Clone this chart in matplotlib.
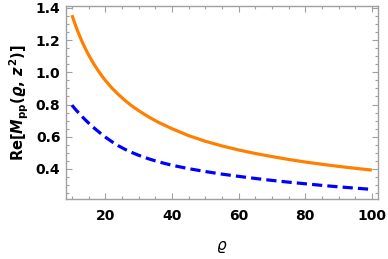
import numpy as np
import matplotlib
matplotlib.use("Agg")
import matplotlib.pyplot as plt
from matplotlib.ticker import MultipleLocator

# values
rho = [10, 11, 12, 13, 14, 15, 16, 17, 18, 19, 20, 22, 24, 26, 28, 30, 33, 36, 40,
       45, 50, 55, 60, 65, 70, 75, 80, 85, 90, 95, 100]
re_solid = [1.355, 1.295, 1.241, 1.192, 1.148, 1.108, 1.071, 1.037, 1.006, 0.977, 0.950,
            0.902, 0.861, 0.824, 0.791, 0.762, 0.723, 0.689, 0.650,
            0.607, 0.572, 0.543, 0.518, 0.496, 0.477, 0.459, 0.443, 0.429, 0.416, 0.404, 0.393]
re_dashed = [0.796, 0.771, 0.748, 0.726, 0.705, 0.685, 0.666, 0.648, 0.631, 0.614, 0.598,
             0.569, 0.543, 0.521, 0.502, 0.485, 0.463, 0.444, 0.423,
             0.402, 0.384, 0.368, 0.354, 0.341, 0.329, 0.318, 0.308, 0.298, 0.289, 0.281, 0.273]

xticks = [20, 40, 60, 80, 100]
yticks = [0.4, 0.6, 0.8, 1.0, 1.2, 1.4]

plt.rcParams['mathtext.fontset'] = 'custom'
plt.rcParams['mathtext.rm'] = 'DejaVu Sans:bold'
plt.rcParams['mathtext.it'] = 'DejaVu Sans:bold:italic'
plt.rcParams['mathtext.bf'] = 'DejaVu Sans:bold'

fig = plt.figure(figsize=(3.88, 2.59), dpi=100)
ax = fig.add_axes([0.170, 0.232, 0.804, 0.745])

ax.plot(rho, re_solid, color='#ff8000', lw=2.3, solid_capstyle='butt')
ax.plot(rho, re_dashed, color='#0000ff', lw=2.3, dashes=(3.2, 1.6))

ax.set_xlim(8.2, 101.8)
ax.set_ylim(0.214, 1.412)
ax.set_xticks(xticks)
ax.set_yticks(yticks)
ax.set_yticklabels(['%.1f' % v for v in yticks])
ax.xaxis.set_minor_locator(MultipleLocator(5))
ax.yaxis.set_minor_locator(MultipleLocator(0.05))

gray = '#a0a0a0'
for s in ax.spines.values():
    s.set_color(gray)
    s.set_linewidth(1.0)
ax.tick_params(which='both', direction='in', top=True, right=True, color=gray,
               width=0.8, labelsize=10)
ax.tick_params(which='major', length=4)
ax.tick_params(which='minor', length=2.2)
ax.tick_params(axis='x', pad=7)
ax.tick_params(axis='y', pad=4)
for lab in ax.get_xticklabels() + ax.get_yticklabels():
    lab.set_fontweight('bold')

ax.set_xlabel('ϱ', fontsize=11, style='italic', labelpad=11)
ax.set_ylabel(r'$\mathrm{Re}[M_{\mathrm{pp}}(\varrho,\, z^2)]$', fontsize=10.5, labelpad=3)

fig.savefig('out.png', dpi=100)
